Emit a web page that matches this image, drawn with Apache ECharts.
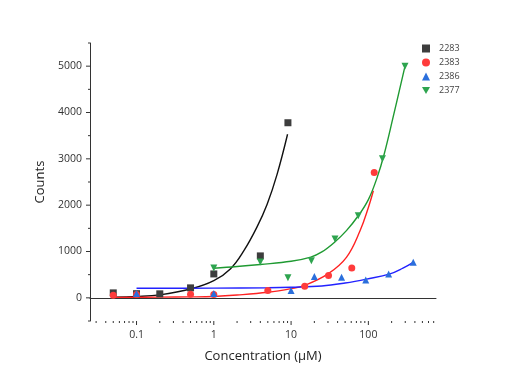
<!DOCTYPE html>
<html>
<head>
<meta charset="utf-8">
<script src="https://cdn.jsdelivr.net/npm/echarts@6/dist/echarts.min.js"></script>
<style>html,body{margin:0;padding:0;background:#fff}#c{width:506px;height:383px}</style>
</head>
<body>
<div id="c"></div>
<script>
// measured points [concentration µM, counts]
var pts2283 = [[0.05,107],[0.1,90],[0.2,86],[0.5,215],[1,516],[4,905],[9.1,3779]];
var pts2383 = [[0.05,55],[0.1,70],[0.5,80],[1,70],[5,157],[15,250],[30.5,480],[61,646],[119,2703]];
var pts2386 = [[0.1,95],[1,95],[10,160],[20,458],[45,443],[92.5,387],[183,516],[381,766]];
var pts2377 = [[1,645],[4,775],[9.1,435],[18.3,800],[37,1270],[74,1771],[152,3000],[298,5000]];
// fitted curves
var fit2283 = [[0.05,13],[0.1,28],[0.2,65],[0.5,190],[1,370],[1.65,630],[2.45,1017],[3.6,1520],[4.9,2020],[6.6,2670],[9,3530]];
var fit2383 = [[0.05,10],[0.2,15],[0.5,20],[1,30],[2,60],[5,120],[10,200],[15,270],[30,516],[52,874],[78,1448],[100,1950],[116,2310]];
var fit2386 = [[0.1,207],[1,210],[5,218],[10,228],[25,255],[50,320],[95,405],[190,516],[280,640],[380,766]];
var fit2377 = [[1,640],[2,675],[4,720],[10,790],[18,880],[25,990],[36.5,1200],[52,1450],[74,1771],[100,2120],[130,2600],[160,3100],[209,3900],[298,5000]];
// axis ticks
var xMajorTicks = [0.1,1,10,100];
var xMinorTicks = [0.03,0.04,0.05,0.06,0.07,0.08,0.09,0.2,0.3,0.4,0.5,0.6,0.7,0.8,0.9,2,3,4,5,6,7,8,9,20,30,40,50,60,70,80,90,200,300,400,500,600,700];
var yMajorTicks = [0,1000,2000,3000,4000,5000];
var yMinorTicks = [-500,500,1500,2500,3500,4500,5500];
var xMin = 0.025, xMax = 750, yMin = -500, yMax = 5500;

var FONT = 'Open Sans';
var AX = '#333';
var chart = echarts.init(document.getElementById('c'));

function tickSeries(vals, isX, len) {
  return {
    type: 'custom', silent: true, clip: false, z: 10,
    data: vals.map(function (v) { return isX ? [v, yMin] : [xMin, v]; }),
    renderItem: function (params, api) {
      var p = api.coord([api.value(0), api.value(1)]);
      var shape = isX ? {x1: p[0], y1: p[1], x2: p[0], y2: p[1] + len}
                      : {x1: p[0], y1: p[1], x2: p[0] - len, y2: p[1]};
      return {type: 'line', shape: shape, style: {stroke: AX, lineWidth: 1}};
    }
  };
}
function fitLine(d, color) {
  return {type: 'line', data: d, smooth: 0.4, showSymbol: false, symbol: 'none', silent: true,
    lineStyle: {color: color, width: 1.4}, z: 2};
}
function scat(name, d, symbol, color) {
  return {type: 'scatter', name: name, data: d, symbol: symbol, symbolSize: 7,
    itemStyle: {color: color, opacity: 1}, z: 5};
}
var downTri = 'path://M0,0L10,0L5,9Z';

chart.setOption({
  animation: false,
  textStyle: {fontFamily: FONT},
  grid: {left: 90, right: 70, top: 43, bottom: 62},
  legend: {
    orient: 'vertical', left: 417, top: 39, itemWidth: 8, itemHeight: 8, itemGap: 5,
    textStyle: {fontSize: 9, color: '#444', fontFamily: FONT, padding: [0, 0, 0, 4]},
    data: [
      {name: '2283', icon: 'rect'},
      {name: '2383', icon: 'circle'},
      {name: '2386', icon: 'triangle'},
      {name: '2377', icon: downTri}
    ]
  },
  xAxis: {
    type: 'log', min: xMin, max: xMax, logBase: 10,
    name: 'Concentration (μM)', nameLocation: 'middle', nameGap: 29,
    nameTextStyle: {fontSize: 13, color: '#222', fontFamily: FONT},
    axisLine: {lineStyle: {color: AX, width: 1}},
    axisTick: {show: false},
    splitLine: {show: false},
    axisLabel: {fontSize: 10.5, color: '#333', margin: 9, showMinLabel: false, showMaxLabel: false,
      formatter: function (v) { return String(+Number(v).toPrecision(3)); }}
  },
  yAxis: {
    type: 'value', min: yMin, max: yMax, splitNumber: 6,
    name: 'Counts', nameLocation: 'middle', nameGap: 35,
    nameTextStyle: {fontSize: 13, color: '#222', fontFamily: FONT},
    axisLine: {show: true, lineStyle: {color: AX, width: 1}},
    axisTick: {show: false},
    splitLine: {show: false},
    axisLabel: {fontSize: 10.5, color: '#333', margin: 8, showMinLabel: false, showMaxLabel: false,
      formatter: function (v) { return String(v); }}
  },
  series: [
    fitLine(fit2283, '#111111'),
    fitLine(fit2383, '#ff2222'),
    fitLine(fit2386, '#2222ff'),
    fitLine(fit2377, '#1f9a32'),
    scat('2283', pts2283, 'rect', '#3d3d3d'),
    scat('2383', pts2383, 'circle', '#ff3b3b'),
    scat('2386', pts2386, 'triangle', '#2b6fdc'),
    scat('2377', pts2377, downTri, '#2ea44f'),
    tickSeries(xMajorTicks, true, 4),
    tickSeries(xMinorTicks, true, 2),
    tickSeries(yMajorTicks, false, 4),
    tickSeries(yMinorTicks, false, 2)
  ]
});
</script>
</body>
</html>
